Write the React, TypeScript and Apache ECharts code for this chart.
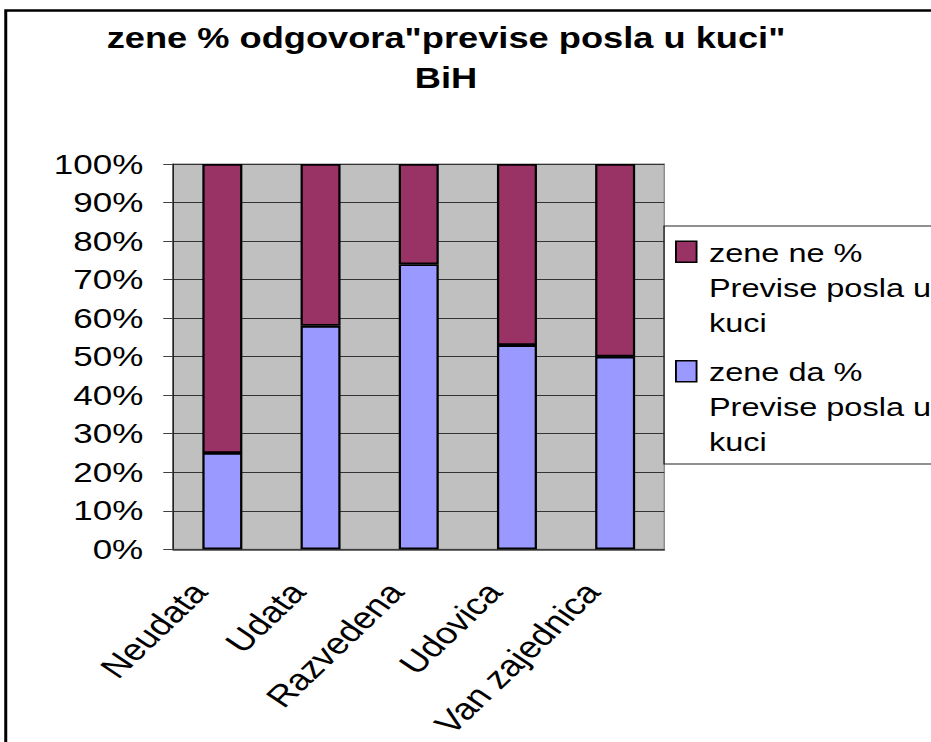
import React, { useEffect, useRef } from 'react';
import * as echarts from 'echarts';

// ---- data ----
const categories = ['Neudata', 'Udata', 'Razvedena', 'Udovica', 'Van zajednica'];
const daValues = [25, 58, 74, 53, 50];
const neValues = [75, 42, 26, 47, 50];
const daName = 'zene da %\nPrevise posla u\nkuci';
const neName = 'zene ne %\nPrevise posla u\nkuci';
const titleLines = ['zene % odgovora"previse posla u kuci"', 'BiH'];
const yMin = 0;
const yMax = 100;
const yStep = 10;

// the reference image is horizontally stretched; draw in a narrower box and stretch it
const SX = 1.25;

export default function App() {
  const ref = useRef<HTMLDivElement>(null);

  useEffect(() => {
    const chart = echarts.init(ref.current!, null, { renderer: 'svg' });
    const font = '"Liberation Sans", Arial, Helvetica, sans-serif';
    chart.setOption({
      animation: false,
      backgroundColor: '#ffffff',
      title: {
        text: titleLines.join('\n'),
        left: 356.8,
        top: 18,
        padding: 0,
        textAlign: 'center',
        textStyle: { fontFamily: font, fontSize: 29, fontWeight: 'bold', lineHeight: 40, color: '#000' },
      },
      graphic: [
        {
          type: 'rect',
          silent: true,
          z: 100,
          shape: { x: 4.6, y: 10.5, width: 2000, height: 2000 },
          style: { fill: 'none', stroke: '#000', lineWidth: 2.4 },
        },
      ],
      grid: {
        left: 138.6,
        top: 164,
        width: 392.8,
        height: 385.3,
        show: true,
        backgroundColor: '#C0C0C0',
        borderColor: '#808080',
        borderWidth: 1,
      },
      legend: {
        orient: 'vertical',
        left: 531.2,
        top: 226,
        data: [neName, daName],
        padding: [8, 20, 4, 8.8],
        itemGap: 13,
        itemWidth: 21.4,
        itemHeight: 105,
        icon: 'path://M0,6.5L16.5,6.5L16.5,27.5L0,27.5Z M0,0 M21.4,105',
        borderColor: '#222',
        borderWidth: 1,
        selectedMode: false,
        textStyle: { fontFamily: font, fontSize: 26, lineHeight: 35, color: '#000' },
        itemStyle: { borderColor: '#000', borderWidth: 1.5 },
      },
      xAxis: {
        type: 'category',
        data: categories,
        axisLine: { lineStyle: { color: '#404040', width: 1.5 } },
        axisTick: { length: 10, lineStyle: { color: '#404040', width: 1 } },
        axisLabel: {
          interval: 0,
          rotate: 50,
          margin: 15,
          padding: [0, 29, 0, 0],
          fontFamily: font,
          fontSize: 30,
          color: '#000',
        },
      },
      yAxis: {
        type: 'value',
        min: yMin,
        max: yMax,
        interval: yStep,
        axisLine: { show: true, lineStyle: { color: '#000', width: 1 } },
        axisTick: { show: true, length: 8, lineStyle: { color: '#404040', width: 1 } },
        axisLabel: { formatter: '{value}%', margin: 24, fontFamily: font, fontSize: 28, color: '#000' },
        splitLine: { lineStyle: { color: '#333', width: 1 } },
      },
      series: [
        {
          name: daName,
          type: 'bar',
          stack: 'total',
          data: daValues,
          barWidth: 32,
          itemStyle: { color: '#9999FF', borderColor: '#000', borderWidth: 1.8 },
        },
        {
          name: neName,
          type: 'bar',
          stack: 'total',
          data: neValues,
          barWidth: 32,
          itemStyle: { color: '#993366', borderColor: '#000', borderWidth: 1.8 },
        },
      ],
    });
    return () => chart.dispose();
  }, []);

  return (
    <div
      style={{
        position: 'absolute',
        left: 0,
        top: 0,
        width: 931,
        height: 742,
        overflow: 'hidden',
        background: '#fff',
      }}
    >
      <div
        ref={ref}
        style={{ width: 800, height: 742, transform: `scaleX(${SX})`, transformOrigin: '0 0' }}
      />
    </div>
  );
}
